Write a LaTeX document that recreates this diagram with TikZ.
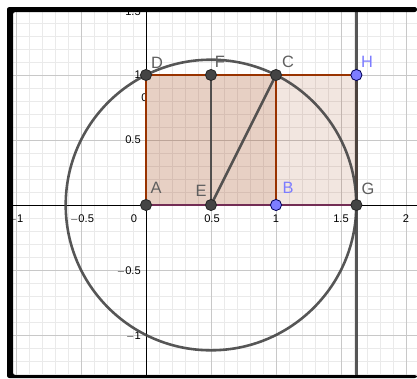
\documentclass[tikz,border=0pt]{standalone}
\usepackage{fontspec}
\setmainfont{Liberation Sans}
\definecolor{minorg}{RGB}{234,234,234}
\definecolor{majorg}{RGB}{200,200,200}
\definecolor{brownedge}{RGB}{153,51,0}
\definecolor{purpedge}{RGB}{115,45,85}
\definecolor{darkpt}{RGB}{68,68,68}
\definecolor{bluept}{RGB}{125,125,255}
\definecolor{labgray}{RGB}{95,95,95}
\definecolor{labblue}{RGB}{125,125,255}
\begin{document}
\begin{tikzpicture}[x=0.03cm,y=-0.03cm,
  minor/.style={draw=minorg,line width=0.6pt},
  major/.style={draw=majorg,line width=0.8pt},
  axis/.style={draw=black,line width=0.8pt},
  tick/.style={font=\fontsize{9.5}{10}\selectfont,text=black,inner sep=0pt},
  edge/.style={draw=brownedge,line width=2.3pt},
  geo/.style={draw=darkpt,draw opacity=0.9,line width=2.2pt},
  dpt/.style={circle,fill=darkpt,draw=black!85,line width=0.7pt,minimum size=9.5pt,inner sep=0pt},
  bpt/.style={circle,fill=bluept,draw=blue!35!black,line width=0.7pt,minimum size=9.5pt,inner sep=0pt},
  lab/.style={font=\fontsize{14}{15}\selectfont,text=labgray,inner sep=0pt},
  blab/.style={lab,text=labblue}]
\useasboundingbox (0,0) rectangle (417,378);
\fill[white] (0,0) rectangle (417,378);
% grid
\foreach \i in {-10,...,20}{\draw[minor] (146+13*\i,12) -- (146+13*\i,375);}
\foreach \j in {-14,...,13}{\draw[minor] (13,205+13*\j) -- (417,205+13*\j);}
\foreach \i in {-2,...,4}{\draw[major] (146+65*\i,12) -- (146+65*\i,375);}
\foreach \j in {-2,...,2}{\draw[major] (13,205+65*\j) -- (417,205+65*\j);}
% axes
\draw[axis] (13,205) -- (417,205);
\draw[axis] (146,12) -- (146,375);
% tick labels
\node[tick] (tx1) at (16,219) {$-$1};
\node[tick] (tx2) at (82,219) {$-$0.5};
\node[tick] (tx3) at (134,219) {0};
\node[tick] (tx4) at (212,219) {0.5};
\node[tick] (tx5) at (276,219) {1};
\node[tick] (tx6) at (341,219) {1.5};
\node[tick] (tx7) at (406,219) {2};
\node[tick,anchor=east] (ty1) at (141,12) {1.5};
\node[tick,anchor=east] (ty2) at (141,75) {1};
\node[tick,anchor=east] (ty3) at (141,140) {0.5};
\node[tick,anchor=east] (ty4) at (141,271) {$-$0.5};
\node[tick,anchor=east] (ty5) at (141,336) {$-$1};
\node[tick] (tyc) at (144.5,98) {0};
% points
\coordinate (A) at (146,205);
\coordinate (B) at (276,205);
\coordinate (C) at (276,75);
\coordinate (D) at (146,75);
\coordinate (E) at (211,205);
\coordinate (F) at (211,75);
\coordinate (G) at (356.4,205);
\coordinate (H) at (356.4,75);
\coordinate (Vt) at (356.4,12);
\coordinate (Vb) at (356.4,375);
% fills
\fill[brownedge,fill opacity=0.12] (A) -- (G) -- (H) -- (D) -- cycle;
\fill[brownedge,fill opacity=0.12] (A) -- (B) -- (C) -- (D) -- cycle;
% polygon edges
\draw[edge] (A) -- (D) -- (H) -- (G);
\draw[edge] (B) -- (C);
\draw[draw=purpedge,line width=2.3pt] (A) -- (G);
% circle and segments
\draw[geo] (E) circle (145.3);
\draw[geo] (E) -- (F);
\draw[geo] (E) -- (C);
\draw[geo,line width=2.6pt] (Vt) -- (Vb);
% point marks
\node[dpt] (pA) at (A) {};
\node[dpt] (pC) at (C) {};
\node[dpt] (pD) at (D) {};
\node[dpt] (pE) at (E) {};
\node[dpt] (pF) at (F) {};
\node[dpt] (pG) at (G) {};
\node[bpt] (pB) at (B) {};
\node[bpt] (pH) at (H) {};
% labels
\node[lab] (lD) at (157,63) {D};
\node[lab] (lF) at (220,62) {F};
\node[lab] (lC) at (288,62) {C};
\node[blab] (lH) at (367,62) {H};
\node[lab] (lA) at (156,188) {A};
\node[lab] (lE) at (201,191) {E};
\node[blab] (lB) at (288,188) {B};
\node[lab] (lG) at (368,189) {G};
% frame
\fill[black, rounded corners=2pt] (7,7) -- (417,7) -- (417,12) -- (13,12) -- (13,375) -- (417,375) -- (417,378) -- (7,378) -- cycle;
\end{tikzpicture}
\end{document}
